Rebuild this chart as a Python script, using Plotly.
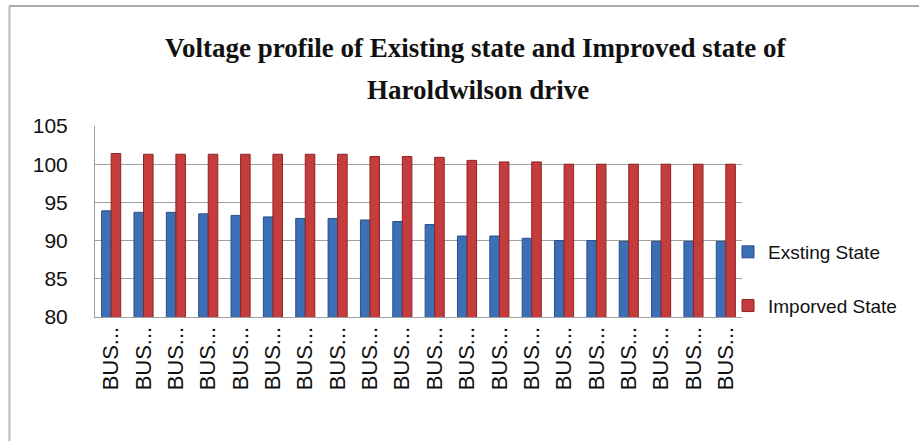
import plotly.graph_objects as go

categories = [f"BUS {i}" for i in range(1, 21)]
tick_labels = ["BUS..."] * 20
existing_state = [93.9, 93.7, 93.7, 93.5, 93.3, 93.1, 92.9, 92.9, 92.7, 92.5,
                  92.1, 90.6, 90.6, 90.3, 90.0, 90.0, 89.9, 89.9, 89.9, 89.9]
improved_state = [101.4, 101.3, 101.3, 101.3, 101.3, 101.3, 101.3, 101.3, 101.0, 101.0,
                  100.9, 100.5, 100.3, 100.3, 100.0, 100.0, 100.0, 100.0, 100.0, 100.0]
series_names = ["Exsting State", "Imporved State"]
title_lines = ["Voltage profile of Existing state and Improved state of", "Haroldwilson drive"]
y_ticks = [80, 85, 90, 95, 100, 105]

W, H = 919, 441
L, R, T, B = 95, 177, 126, 124
pw, ph = W - L - R, H - T - B

def px_x(x):
    return (x - L) / pw

def px_y(y):
    return (H - B - y) / ph

SANS = "Liberation Sans, Arial, sans-serif"

fig = go.Figure()
fig.add_trace(go.Bar(
    x=categories, y=existing_state, name=series_names[0], legendgroup="a",
    marker=dict(color="#3C6FB6", line=dict(color="#2A4F86", width=1)),
))
fig.add_trace(go.Bar(
    x=categories, y=improved_state, name=series_names[1], legendgroup="b",
    marker=dict(color="#C43C3C", line=dict(color="#8E2424", width=1)),
))

title_font = dict(family="Liberation Serif, serif", size=27, color="#111111")
annotations = [
    dict(text=f"<b>{title_lines[0]}</b>", xref="paper", yref="paper",
         x=px_x(476), y=px_y(48), xanchor="center", yanchor="middle",
         showarrow=False, font=title_font),
    dict(text=f"<b>{title_lines[1]}</b>", xref="paper", yref="paper",
         x=px_x(478), y=px_y(90), xanchor="center", yanchor="middle",
         showarrow=False, font=title_font),
]

fig.update_layout(
    width=W, height=H,
    margin=dict(l=L, r=R, t=T, b=B, autoexpand=False),
    paper_bgcolor="white", plot_bgcolor="white",
    barmode="group", bargap=0.41, bargroupgap=0.0,
    showlegend=True,
    legend=dict(
        x=px_x(738), y=px_y(233), xanchor="left", yanchor="top",
        font=dict(family=SANS, size=19, color="#111111"),
        traceorder="grouped", tracegroupgap=26,
        itemwidth=30, indentation=-10, bgcolor="rgba(0,0,0,0)",
    ),
    annotations=annotations,
    font=dict(family=SANS, color="#111111"),
    shapes=[
        dict(type="line", xref="paper", yref="paper", x0=px_x(9), x1=px_x(919),
             y0=px_y(6), y1=px_y(6), line=dict(color="#AAAAAA", width=2)),
        dict(type="line", xref="paper", yref="paper", x0=px_x(9.5), x1=px_x(9.5),
             y0=px_y(6), y1=px_y(441), line=dict(color="#B8B8B8", width=2)),
    ],
)

fig.update_yaxes(
    range=[80, 105], tickvals=y_ticks, ticktext=[str(v) for v in y_ticks],
    showgrid=True, gridcolor="#A0A0A0", gridwidth=1,
    showline=True, linecolor="#A0A0A0", linewidth=1,
    ticks="", ticklen=0, ticklabelstandoff=22,
    tickfont=dict(family=SANS, size=21, color="#111111"),
    zeroline=False,
)
fig.update_xaxes(
    tickmode="array", tickvals=categories, ticktext=tick_labels, tickangle=-90,
    showline=True, linecolor="#A0A0A0", linewidth=1,
    showgrid=False, ticks="",
    tickfont=dict(family=SANS, size=22, color="#111111"),
)

fig.write_html("out.html", config={"displayModeBar": False},
               post_script="document.body.style.margin='0';")
